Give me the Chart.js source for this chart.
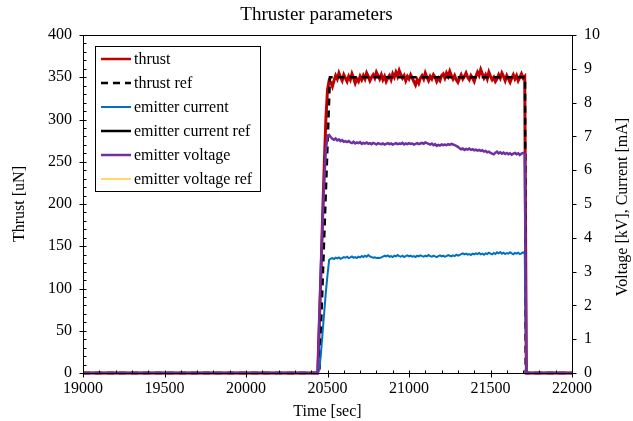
<!DOCTYPE html>
<html>
<head>
<meta charset="utf-8">
<script src="https://cdn.jsdelivr.net/npm/chart.js@4.4.1/dist/chart.umd.min.js"></script>
<style>
  body { margin: 0; background: #fff; }
</style>
</head>
<body>
<canvas id="chart" width="633" height="421"></canvas>
<script>
// sample times [sec]
const time = [19000,
  20440, 20450, 20460, 20470, 20480, 20490, 20500, 20510, 20520, 20530,
  20540, 20550, 20560, 20570, 20580, 20590, 20600, 20610, 20620, 20630,
  20640, 20650, 20660, 20670, 20680, 20690, 20700, 20710, 20720, 20730,
  20740, 20750, 20760, 20770, 20780, 20790, 20800, 20810, 20820, 20830,
  20840, 20850, 20860, 20870, 20880, 20890, 20900, 20910, 20920, 20930,
  20940, 20950, 20960, 20970, 20980, 20990, 21000, 21010, 21020, 21030,
  21040, 21050, 21060, 21070, 21080, 21090, 21100, 21110, 21120, 21130,
  21140, 21150, 21160, 21170, 21180, 21190, 21200, 21210, 21220, 21230,
  21240, 21250, 21260, 21270, 21280, 21290, 21300, 21310, 21320, 21330,
  21340, 21350, 21360, 21370, 21380, 21390, 21400, 21410, 21420, 21430,
  21440, 21450, 21460, 21470, 21480, 21490, 21500, 21510, 21520, 21530,
  21540, 21550, 21560, 21570, 21580, 21590, 21600, 21610, 21620, 21630,
  21640, 21650, 21660, 21670, 21680, 21690, 21700, 21710, 21720,
  22000];

// thrust [uN]
const thrust = [0,
  0, 60, 120, 185, 245, 300, 335, 346,
  344, 339, 346, 352, 348, 355, 350, 346, 353, 349,
  345, 351, 347, 354, 349, 343, 348, 345, 351, 347,
  352, 348, 355, 351, 346, 350, 353, 349, 356, 352,
  348, 353, 347, 351, 345, 349, 352, 347, 354, 350,
  356, 351, 358, 353, 349, 352, 346, 351, 348, 353,
  349, 345, 341, 347, 343, 349, 352, 348, 355, 350,
  346, 351, 348, 353, 350, 345, 349, 346, 352, 354,
  349, 355, 351, 357, 352, 348, 352, 347, 344, 349,
  353, 348, 351, 355, 350, 347, 352, 349, 345, 351,
  356, 352, 359, 354, 349, 353, 348, 356, 351, 347,
  350, 345, 348, 353, 349, 355, 351, 346, 352, 348,
  344, 349, 353, 348, 352, 346, 350, 354, 349, 351,
  0,
  0];

// emitter voltage [kV]
const voltage = [0,
  0, 1.6, 3.1, 4.5, 5.7, 6.6, 7.0, 7.04,
  6.98, 6.93, 6.90, 6.94, 6.88, 6.91, 6.86, 6.89, 6.84, 6.86,
  6.83, 6.86, 6.82, 6.80, 6.84, 6.79, 6.82, 6.80, 6.83, 6.78,
  6.81, 6.79, 6.82, 6.78, 6.80, 6.77, 6.81, 6.79, 6.76, 6.80,
  6.78, 6.77, 6.79, 6.76, 6.78, 6.80, 6.77, 6.79, 6.76, 6.78,
  6.80, 6.77, 6.79, 6.78, 6.81, 6.76, 6.79, 6.77, 6.80, 6.78,
  6.79, 6.76, 6.78, 6.80, 6.77, 6.79, 6.81, 6.78, 6.82, 6.80,
  6.78, 6.76, 6.79, 6.74, 6.77, 6.72, 6.75, 6.73, 6.76, 6.74,
  6.76, 6.74, 6.77, 6.75, 6.78, 6.76, 6.74, 6.72, 6.69, 6.65,
  6.62, 6.64, 6.60, 6.63, 6.61, 6.64, 6.60, 6.62, 6.59, 6.61,
  6.58, 6.60, 6.57, 6.59, 6.55, 6.57, 6.53, 6.55, 6.51, 6.49,
  6.47, 6.52, 6.55, 6.50, 6.53, 6.49, 6.52, 6.48, 6.51, 6.47,
  6.50, 6.46, 6.49, 6.51, 6.47, 6.50, 6.45, 6.49, 6.51, 6.48,
  0,
  0];

// emitter current [mA]
const current = [0,
  0, 0.1, 0.6, 1.2, 1.8, 2.4, 2.9, 3.35,
  3.38, 3.40, 3.37, 3.41, 3.39, 3.42, 3.38, 3.40, 3.43, 3.41,
  3.44, 3.40, 3.42, 3.45, 3.41, 3.43, 3.40, 3.44, 3.42, 3.46,
  3.43, 3.47, 3.44, 3.49, 3.45, 3.43, 3.41, 3.42, 3.40, 3.41,
  3.40, 3.42, 3.44, 3.47, 3.45, 3.48, 3.44, 3.46, 3.43, 3.47,
  3.45, 3.49, 3.46, 3.44, 3.47, 3.43, 3.46, 3.48, 3.45, 3.47,
  3.44, 3.46, 3.43, 3.47, 3.45, 3.48, 3.46, 3.44, 3.47, 3.45,
  3.49, 3.46, 3.44, 3.47, 3.45, 3.43, 3.46, 3.48, 3.45, 3.47,
  3.44, 3.46, 3.49, 3.47, 3.45, 3.48, 3.46, 3.50, 3.47, 3.49,
  3.52, 3.54, 3.51, 3.53, 3.50, 3.52, 3.49, 3.53, 3.51, 3.54,
  3.52, 3.55, 3.51, 3.53, 3.50, 3.54, 3.52, 3.56, 3.53, 3.51,
  3.55, 3.52, 3.57, 3.54, 3.58, 3.53, 3.56, 3.52, 3.55, 3.53,
  3.57, 3.54, 3.51, 3.55, 3.53, 3.56, 3.52, 3.54, 3.57, 3.53,
  0,
  0];

// thrust set point
const refTime = [19000, 20450, 20515, 21712, 21716, 22000];
const thrustRef = [0, 0, 350, 350, 0, 0];

const xTicks = { min: 19000, max: 22000, step: 500 };
const thrustTicks = { min: 0, max: 400, step: 50 };
const rightTicks = { min: 0, max: 10, step: 1 };

const serif = '"Liberation Serif", "Times New Roman", serif';

function points(xs, ys) {
  return xs.map((x, i) => ({ x: x, y: ys[i] }));
}

// axis frame with Excel-style tick marks
const frameTicks = {
  id: 'frameTicks',
  afterDatasetsDraw(chart) {
    const { ctx, chartArea: a, scales } = chart;
    const L = Math.round(a.left) + 0.5, R = Math.round(a.right) + 0.5;
    const T = Math.round(a.top) + 0.5, B = Math.round(a.bottom) + 0.5;
    ctx.save();
    ctx.strokeStyle = '#000';
    ctx.lineWidth = 1;
    ctx.strokeRect(L, T, R - L, B - T);
    ctx.beginPath();
    for (let v = thrustTicks.min; v <= thrustTicks.max; v += 10) {
      const y = Math.round(scales.y.getPixelForValue(v)) + 0.5;
      ctx.moveTo(v % 50 === 0 ? L - 4 : L, y);
      ctx.lineTo(L + 3, y);
    }
    for (let v = rightTicks.min; v <= rightTicks.max; v += 1) {
      const y = Math.round(scales.y1.getPixelForValue(v)) + 0.5;
      ctx.moveTo(R, y);
      ctx.lineTo(R + 4, y);
    }
    for (let t = xTicks.min; t <= xTicks.max; t += 100) {
      const x = Math.round(scales.x.getPixelForValue(t)) + 0.5;
      ctx.moveTo(x, B - 3);
      ctx.lineTo(x, t % 500 === 0 ? B + 4 : B);
    }
    ctx.stroke();
    ctx.restore();
  }
};

// boxed legend in the upper left, plus the right axis title
const boxLegend = {
  id: 'boxLegend',
  afterDraw(chart) {
    const { ctx, chartArea: a } = chart;
    ctx.save();
    ctx.fillStyle = '#fff';
    ctx.fillRect(95.5, 46.5, 165, 145);
    ctx.strokeStyle = '#000';
    ctx.lineWidth = 1;
    ctx.strokeRect(95.5, 46.5, 165, 145);
    ctx.font = '16px ' + serif;
    ctx.textBaseline = 'middle';
    chart.data.datasets.forEach((ds, i) => {
      const y = 59 + i * 24;
      ctx.beginPath();
      ctx.strokeStyle = ds.borderColor;
      ctx.lineWidth = Math.min(ds.borderWidth, 2.5);
      ctx.setLineDash(ds.borderDash || []);
      ctx.moveTo(101, y);
      ctx.lineTo(131, y);
      ctx.stroke();
      ctx.setLineDash([]);
      ctx.fillStyle = '#000';
      ctx.fillText(ds.label, 134, y + 1);
    });

    ctx.translate(623, (a.top + a.bottom) / 2 + 3);
    ctx.rotate(-Math.PI / 2);
    ctx.textAlign = 'center';
    ctx.fillText('Voltage [kV], Current [mA]', 0, 0);
    ctx.restore();
  }
};

new Chart(document.getElementById('chart'), {
  type: 'line',
  data: {
    datasets: [
      { label: 'thrust', data: points(time, thrust), borderColor: '#C00000', borderWidth: 3, yAxisID: 'y', order: 6 },
      { label: 'thrust ref', data: points(refTime, thrustRef), borderColor: '#000000', borderWidth: 2.5, borderDash: [7, 5], yAxisID: 'y', order: 5 },
      { label: 'emitter current', data: points(time, current), borderColor: '#0070C0', borderWidth: 2, yAxisID: 'y1', order: 4 },
      { label: 'emitter current ref', data: [], borderColor: '#000000', borderWidth: 2.5, yAxisID: 'y1', order: 3 },
      { label: 'emitter voltage', data: points(time, voltage), borderColor: '#7030A0', borderWidth: 2.5, yAxisID: 'y1', order: 2 },
      { label: 'emitter voltage ref', data: [], borderColor: '#FFD966', borderWidth: 2, yAxisID: 'y1', order: 1 }
    ]
  },
  options: {
    responsive: false,
    animation: false,
    elements: { point: { radius: 0 }, line: { tension: 0 } },
    datasets: { line: { clip: 3 } },
    layout: { padding: 0 },
    plugins: {
      legend: { display: false },
      tooltip: { enabled: false },
      title: {
        display: true,
        text: 'Thruster parameters',
        color: '#000',
        font: { family: serif, size: 19, weight: 'normal' },
        padding: { top: 4, bottom: 8.2 }
      }
    },
    scales: {
      x: {
        type: 'linear',
        min: xTicks.min,
        max: xTicks.max,
        grid: { display: false, drawTicks: false },
        border: { display: false },
        ticks: {
          stepSize: xTicks.step,
          padding: 6,
          color: '#000',
          font: { family: serif, size: 16 },
          maxRotation: 0,
          callback: v => String(v)
        },
        title: {
          display: true,
          text: 'Time [sec]',
          color: '#000',
          font: { family: serif, size: 16 },
          padding: { top: 4, bottom: 0 }
        },
        afterFit: s => { s.height = 48; }
      },
      y: {
        position: 'left',
        min: thrustTicks.min,
        max: thrustTicks.max,
        grid: { display: false, drawTicks: false },
        border: { display: false },
        ticks: { stepSize: thrustTicks.step, padding: 11, color: '#000', font: { family: serif, size: 16 } },
        title: {
          display: true,
          text: 'Thrust [uN]',
          color: '#000',
          font: { family: serif, size: 16 },
          padding: { top: 10, bottom: 0 }
        },
        afterFit: s => { s.width = 83; }
      },
      y1: {
        position: 'right',
        min: rightTicks.min,
        max: rightTicks.max,
        grid: { display: false, drawTicks: false },
        border: { display: false },
        ticks: { stepSize: rightTicks.step, padding: 12, color: '#000', font: { family: serif, size: 16 } },
        afterFit: s => { s.width = 61; }
      }
    }
  },
  plugins: [frameTicks, boxLegend]
});
</script>
</body>
</html>
